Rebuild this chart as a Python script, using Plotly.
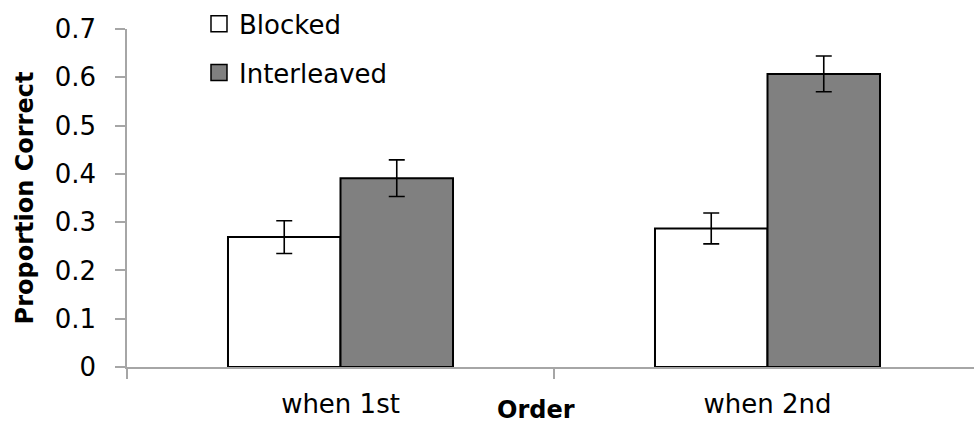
import plotly.graph_objects as go

# Proportion correct by presentation order, blocked vs interleaved study
orders = ["when 1st", "when 2nd"]
blocked = [0.269, 0.287]
blocked_err = [0.034, 0.032]
interleaved = [0.391, 0.607]
interleaved_err = [0.038, 0.037]
y_ticks = [0, 0.1, 0.2, 0.3, 0.4, 0.5, 0.6, 0.7]
y_tick_text = ["0", "0.1", "0.2", "0.3", "0.4", "0.5", "0.6", "0.7"]

FONT = "DejaVu Sans"
AXIS_GREY = "#a6a6a6"
BLOCKED_FILL = "white"
INTERLEAVED_FILL = "#808080"

fig = go.Figure()
fig.add_trace(go.Bar(
    name="Blocked", x=orders, y=blocked, showlegend=False,
    marker=dict(color=BLOCKED_FILL, line=dict(color="black", width=2)),
    error_y=dict(type="data", array=blocked_err, color="black", thickness=1.6, width=8),
))
fig.add_trace(go.Bar(
    name="Interleaved", x=orders, y=interleaved, showlegend=False,
    marker=dict(color=INTERLEAVED_FILL, line=dict(color="black", width=2)),
    error_y=dict(type="data", array=interleaved_err, color="black", thickness=1.6, width=8),
))

# legend keys: larger square swatches than the default bar icon
for name, fill, grp in [("Blocked", BLOCKED_FILL, "b"), ("Interleaved", INTERLEAVED_FILL, "i")]:
    fig.add_trace(go.Scatter(
        name=name, x=[None], y=[None], mode="markers", legendgroup=grp,
        marker=dict(symbol="square", size=16, color=fill, line=dict(color="black", width=1.5)),
    ))

fig.update_layout(
    width=974, height=428,
    margin=dict(l=127, r=0, t=24, b=61),
    paper_bgcolor="white", plot_bgcolor="white",
    font=dict(family=FONT, size=25, color="black"),
    barmode="group", bargap=0.473, bargroupgap=0,
    showlegend=True,
    legend=dict(
        x=0.085, y=1.085, xanchor="left", yanchor="top",
        bgcolor="rgba(0,0,0,0)", traceorder="grouped", tracegroupgap=12,
        font=dict(family=FONT, size=26, color="black"),
        itemwidth=30,
    ),
    xaxis=dict(
        type="category",
        range=[-0.5, -0.5 + 847 / 427],
        showline=True, linecolor=AXIS_GREY, linewidth=1.5,
        ticks="outside", tickson="boundaries", ticklen=10, tickcolor=AXIS_GREY, tickwidth=1.5,
        showgrid=False, zeroline=False,
        tickfont=dict(family=FONT, size=26, color="black"),
        ticklabelstandoff=13,
    ),
    yaxis=dict(
        range=[0, 0.7],
        tickvals=y_ticks, ticktext=y_tick_text,
        showline=True, linecolor=AXIS_GREY, linewidth=1.5,
        ticks="outside", ticklen=10, tickcolor=AXIS_GREY, tickwidth=1.5,
        showgrid=False, zeroline=False,
        tickfont=dict(family=FONT, size=26, color="black"),
        ticklabelstandoff=14,
        title=dict(text="<b>Proportion Correct</b>", font=dict(family=FONT, size=24, color="black"),
                   standoff=14),
    ),
)

fig.add_annotation(
    text="<b>Order</b>", xref="paper", yref="paper",
    x=(536 - 127) / 847, y=-0.082, xanchor="center", yanchor="top",
    borderpad=0, showarrow=False, font=dict(family=FONT, size=24, color="black"),
)

fig.write_html("out.html")
